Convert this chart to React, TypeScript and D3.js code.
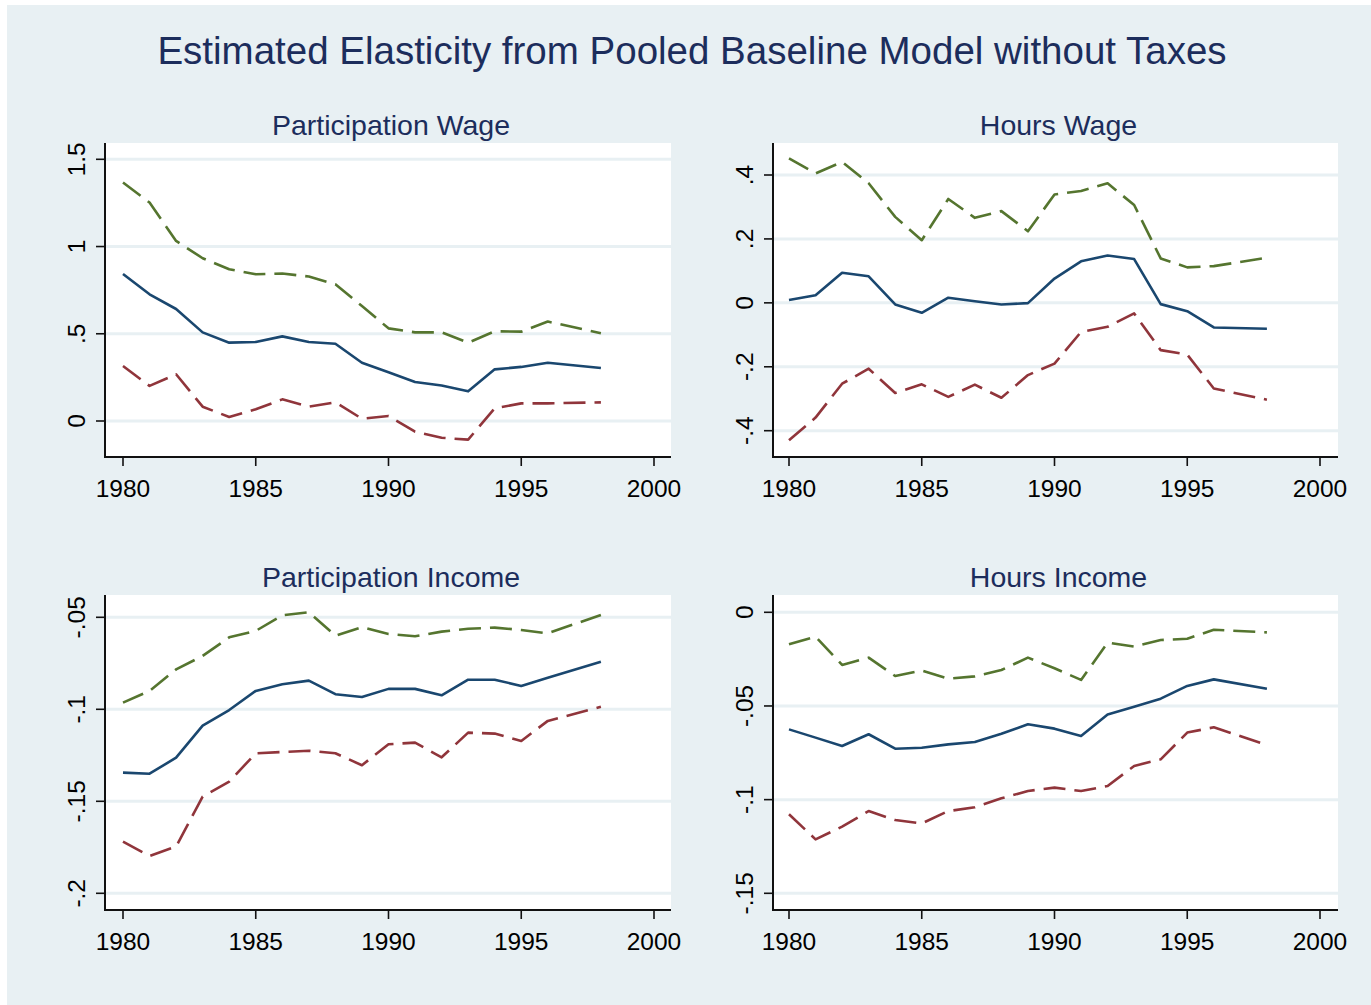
import React, { useRef, useEffect } from 'react';
import { select, scaleLinear, line } from 'd3';

// years in the estimation sample (1997 is not in the data)
const years = [1980, 1981, 1982, 1983, 1984, 1985, 1986, 1987, 1988, 1989, 1990, 1991, 1992, 1993, 1994, 1995, 1996, 1998];

const partWageEst = [0.843, 0.726, 0.642, 0.508, 0.449, 0.453, 0.485, 0.453, 0.443, 0.334, 0.279, 0.224, 0.203, 0.17, 0.296, 0.31, 0.334, 0.304];
const partWageHi = [1.367, 1.252, 1.032, 0.933, 0.87, 0.841, 0.845, 0.828, 0.784, 0.659, 0.531, 0.508, 0.508, 0.449, 0.514, 0.512, 0.57, 0.503];
const partWageLo = [0.315, 0.201, 0.268, 0.082, 0.023, 0.067, 0.124, 0.082, 0.107, 0.013, 0.029, -0.061, -0.096, -0.107, 0.073, 0.101, 0.101, 0.107];

const hoursWageEst = [0.009, 0.024, 0.094, 0.083, -0.005, -0.031, 0.016, 0.005, -0.005, -0.001, 0.076, 0.13, 0.148, 0.137, -0.004, -0.026, -0.077, -0.081];
const hoursWageHi = [0.452, 0.405, 0.441, 0.374, 0.269, 0.196, 0.325, 0.266, 0.287, 0.224, 0.339, 0.35, 0.374, 0.306, 0.139, 0.111, 0.115, 0.141];
const hoursWageLo = [-0.43, -0.359, -0.253, -0.206, -0.282, -0.255, -0.294, -0.256, -0.297, -0.226, -0.19, -0.091, -0.075, -0.033, -0.148, -0.162, -0.268, -0.303];

const partIncEst = [-0.1344, -0.135, -0.1263, -0.1089, -0.1004, -0.09, -0.0864, -0.0844, -0.0918, -0.0933, -0.0889, -0.0889, -0.0924, -0.0839, -0.0839, -0.0873, -0.0829, -0.0741];
const partIncHi = [-0.0964, -0.09, -0.0783, -0.071, -0.0609, -0.0574, -0.0489, -0.0473, -0.06, -0.0554, -0.0591, -0.0603, -0.0578, -0.0562, -0.0556, -0.0569, -0.0587, -0.0487];
const partIncLo = [-0.1719, -0.1797, -0.1746, -0.1475, -0.1393, -0.1239, -0.1232, -0.1225, -0.1239, -0.1304, -0.119, -0.1181, -0.1261, -0.1127, -0.1132, -0.1172, -0.1063, -0.0986];

const hoursIncEst = [-0.0625, -0.0669, -0.0714, -0.0651, -0.0728, -0.0723, -0.0705, -0.0692, -0.0648, -0.0598, -0.0621, -0.066, -0.0545, -0.0504, -0.0461, -0.0393, -0.0358, -0.0408];
const hoursIncHi = [-0.0171, -0.013, -0.0281, -0.0242, -0.034, -0.0311, -0.0354, -0.0342, -0.0308, -0.0242, -0.0299, -0.0361, -0.0162, -0.0183, -0.0148, -0.0141, -0.0093, -0.0107];
const hoursIncLo = [-0.1078, -0.1212, -0.1144, -0.1061, -0.1109, -0.1127, -0.1061, -0.1041, -0.0993, -0.0954, -0.0936, -0.0954, -0.0927, -0.082, -0.0785, -0.0642, -0.0614, -0.0708];

const xTicks = [1980, 1985, 1990, 1995, 2000];

const panels = [
  { title: 'Participation Wage', est: partWageEst, hi: partWageHi, lo: partWageLo, yTicks: [0, 0.5, 1, 1.5], yLabels: ['0', '.5', '1', '1.5'], col: 0, row: 0, tickPx: [421, 159.3] },
  { title: 'Hours Wage', est: hoursWageEst, hi: hoursWageHi, lo: hoursWageLo, yTicks: [-0.4, -0.2, 0, 0.2, 0.4], yLabels: ['-.4', '-.2', '0', '.2', '.4'], col: 1, row: 0, tickPx: [430.7, 175] },
  { title: 'Participation Income', est: partIncEst, hi: partIncHi, lo: partIncLo, yTicks: [-0.2, -0.15, -0.1, -0.05], yLabels: ['-.2', '-.15', '-.1', '-.05'], col: 0, row: 1, tickPx: [893.3, 617.3] },
  { title: 'Hours Income', est: hoursIncEst, hi: hoursIncHi, lo: hoursIncLo, yTicks: [-0.15, -0.1, -0.05, 0], yLabels: ['-.15', '-.1', '-.05', '0'], col: 1, row: 1, tickPx: [893.3, 612.3] }
];

const cols = [
  { axis: 105, x0: 123, x1: 654, edge: 671 },
  { axis: 773, x0: 789, x1: 1320, edge: 1338 }
];
const rows = [
  { top: 143, bottom: 457 },
  { top: 595, bottom: 910 }
];

const BG = '#e8f0f3';
const NAVY_TEXT = '#1c2d5c';
const FONT = '"Liberation Sans", Arial, Helvetica, sans-serif';

export default function App() {
  const svgRef = useRef(null);

  useEffect(() => {
    const svg = select(svgRef.current);
    svg.selectAll('*').remove();

    svg.append('rect').attr('width', 1371).attr('height', 1005).attr('fill', '#fff');
    svg.append('rect').attr('x', 7).attr('y', 5).attr('width', 1364).attr('height', 1000).attr('fill', BG);

    svg
      .append('text')
      .attr('x', 692)
      .attr('y', 64)
      .attr('text-anchor', 'middle')
      .attr('font-family', FONT)
      .attr('font-size', 38.5)
      .attr('fill', NAVY_TEXT)
      .text('Estimated Elasticity from Pooled Baseline Model without Taxes');

    panels.forEach(p => {
      const c = cols[p.col];
      const r = rows[p.row];
      const g = svg.append('g');

      const x = scaleLinear().domain([1980, 2000]).range([c.x0, c.x1]);
      const first = p.yTicks[0];
      const last = p.yTicks[p.yTicks.length - 1];
      const y = scaleLinear().domain([first, last]).range(p.tickPx);

      /* plot region */
      g.append('rect')
        .attr('x', c.axis)
        .attr('y', r.top)
        .attr('width', c.edge - c.axis)
        .attr('height', r.bottom - r.top)
        .attr('fill', '#fff');

      /* grid */
      g.selectAll('.grid')
        .data(p.yTicks)
        .join('line')
        .attr('class', 'grid')
        .attr('x1', c.axis)
        .attr('x2', c.edge)
        .attr('y1', d => y(d))
        .attr('y2', d => y(d))
        .attr('stroke', BG)
        .attr('stroke-width', 3);

      const lineGen = line<number>()
        .x((d, i) => x(years[i]))
        .y(d => y(d));

      /* bands and estimate */
      const series = [
        { vals: p.lo, color: '#90353b', dash: '22 9' },
        { vals: p.hi, color: '#55752f', dash: '22 9' },
        { vals: p.est, color: '#1a476f', dash: null }
      ];
      series.forEach(s => {
        g.append('path')
          .attr('d', lineGen(s.vals))
          .attr('fill', 'none')
          .attr('stroke', s.color)
          .attr('stroke-width', 2.6)
          .attr('stroke-linejoin', 'round')
          .attr('stroke-dasharray', s.dash);
      });

      /* axes */
      g.append('line')
        .attr('x1', c.axis)
        .attr('x2', c.axis)
        .attr('y1', r.top)
        .attr('y2', r.bottom)
        .attr('stroke', '#111')
        .attr('stroke-width', 2);
      g.append('line')
        .attr('x1', c.axis - 1)
        .attr('x2', c.edge)
        .attr('y1', r.bottom)
        .attr('y2', r.bottom)
        .attr('stroke', '#111')
        .attr('stroke-width', 2);

      g.selectAll('.ytick')
        .data(p.yTicks)
        .join('line')
        .attr('class', 'ytick')
        .attr('x1', c.axis - 9)
        .attr('x2', c.axis)
        .attr('y1', d => y(d))
        .attr('y2', d => y(d))
        .attr('stroke', '#111')
        .attr('stroke-width', 1.6);

      g.selectAll('.ylabel')
        .data(p.yTicks)
        .join('text')
        .attr('class', 'ylabel')
        .attr('transform', d => `translate(${c.axis - 20},${y(d)}) rotate(-90)`)
        .attr('text-anchor', 'middle')
        .attr('font-family', FONT)
        .attr('font-size', 24.5)
        .attr('fill', '#000')
        .text((d, i) => p.yLabels[i]);

      g.selectAll('.xtick')
        .data(xTicks)
        .join('line')
        .attr('class', 'xtick')
        .attr('x1', d => x(d))
        .attr('x2', d => x(d))
        .attr('y1', r.bottom)
        .attr('y2', r.bottom + 9)
        .attr('stroke', '#111')
        .attr('stroke-width', 1.6);

      g.selectAll('.xlabel')
        .data(xTicks)
        .join('text')
        .attr('class', 'xlabel')
        .attr('x', d => x(d))
        .attr('y', r.bottom + 39.5)
        .attr('text-anchor', 'middle')
        .attr('font-family', FONT)
        .attr('font-size', 24.5)
        .attr('fill', '#000')
        .text(d => d);

      g.append('text')
        .attr('x', (c.axis + c.edge) / 2 + 3)
        .attr('y', r.top - 8)
        .attr('text-anchor', 'middle')
        .attr('font-family', FONT)
        .attr('font-size', 28.5)
        .attr('fill', NAVY_TEXT)
        .text(p.title);
    });
  }, []);

  return (
    <svg
      ref={svgRef}
      width={1371}
      height={1005}
      style={{ position: 'absolute', left: 0, top: 0, display: 'block' }}
    />
  );
}
